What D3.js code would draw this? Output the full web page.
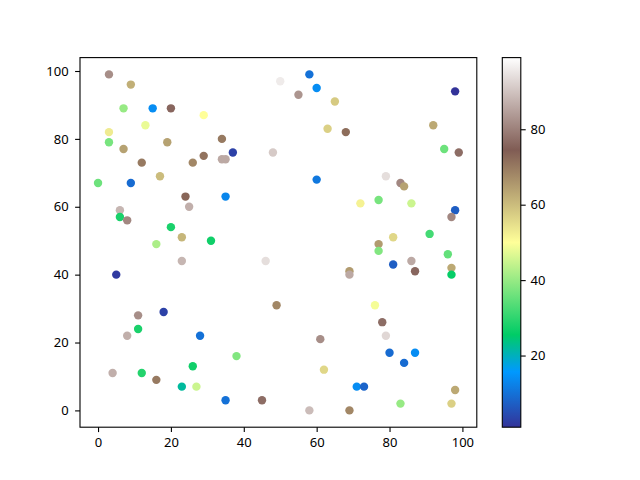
<!DOCTYPE html>
<html>
<head>
<meta charset="utf-8">
<script src="https://cdn.jsdelivr.net/npm/d3@7"></script>
<style>
  body { margin: 0; background: #fff; }
  svg text { font-family: "Noto Sans", "DejaVu Sans", sans-serif; font-size: 13px; fill: #000; }
</style>
</head>
<body>
<svg id="chart" width="640" height="480"></svg>
<script>
// scatter points (x, y, colour value)
const xs = [3, 9, 7, 15, 20, 29, 13, 3, 3, 7, 19, 12, 26, 29, 17, 34, 34, 35, 0, 9,
            50, 58, 60, 55, 65, 63, 37, 48, 60, 68, 98, 92, 95, 99, 79, 83, 84,
            24, 25, 6, 6, 8, 20, 23, 31, 16, 23, 5, 35, 46, 49,
            72, 77, 86, 98, 97, 91, 81, 77, 77, 96, 81, 86, 97, 97, 87, 69, 69, 76,
            18, 11, 11, 8, 28, 26, 4, 12, 16, 23, 27, 38, 61, 62, 35, 45, 58,
            78, 79, 80, 87, 84, 71, 73, 85, 83, 69, 98, 97];
const ys = [99, 96, 89, 89, 89, 87, 84, 82, 79, 77, 79, 73, 73, 75, 69, 80, 74, 74, 67, 67,
            97, 99, 95, 93, 91, 83, 76, 76, 68, 82, 94, 84, 77, 76, 69, 67, 66,
            63, 60, 59, 57, 56, 54, 51, 50, 49, 44, 40, 63, 44, 31,
            61, 62, 61, 59, 57, 52, 51, 49, 47, 46, 43, 44, 42, 40, 41, 41, 40, 31,
            29, 28, 24, 22, 22, 13, 11, 11, 9, 7, 7, 16, 21, 12, 3, 3, 0,
            26, 22, 17, 17, 14, 7, 7, 8, 2, 0, 6, 2];
const cs = [82, 62, 40, 14, 76, 50, 48, 53, 37, 64, 64, 70, 68, 71, 60, 70, 86, 86, 36, 9,
            96, 10, 14, 83, 58, 57, 3, 91, 11, 72, 1, 63, 36, 77, 94, 81, 64,
            73, 87, 88, 28, 81, 28, 61, 27, 42, 88, 2, 13, 94, 68,
            52, 37, 45, 7, 81, 32, 56, 65, 38, 35, 7, 86, 63, 26, 76, 65, 86, 49,
            3, 82, 28, 87, 10, 27, 87, 29, 70, 22, 45, 38, 82, 56, 10, 77, 89,
            77, 93, 9, 14, 9, 14, 8, 99, 40, 68, 63, 57];

const xTicks = [0, 20, 40, 60, 80, 100];
const yTicks = [0, 20, 40, 60, 80, 100];
const cbarTicks = [20, 40, 60, 80];

// matplotlib "terrain" colormap anchors
const terrainStops = [0, 0.15, 0.25, 0.5, 0.75, 1];
const terrainColors = ["#333399", "#0099ff", "#00cc66", "#ffff99", "#805c54", "#ffffff"];

const svg = d3.select("#chart");
const plotL = 80, plotR = 476.8, plotT = 57.6, plotB = 427.2;
const cbLeft = 502.3, cbWidth = 18.5;

function padded(vals) {
  const [lo, hi] = d3.extent(vals);
  const m = (hi - lo) * 0.05;
  return [lo - m, hi + m];
}

const x = d3.scaleLinear().domain(padded(xs)).range([plotL, plotR]);
const y = d3.scaleLinear().domain(padded(ys)).range([plotB, plotT]);
const cExtent = d3.extent(cs);
const terrain = d3.scaleLinear().domain(terrainStops).range(terrainColors).interpolate(d3.interpolateRgb);
const colour = v => terrain((v - cExtent[0]) / (cExtent[1] - cExtent[0]));

const points = xs.map((d, i) => ({x: d, y: ys[i], c: cs[i]}));

svg.append("g")
  .selectAll("circle")
  .data(points)
  .join("circle")
  .attr("cx", d => x(d.x))
  .attr("cy", d => y(d.y))
  .attr("r", 4.2)
  .attr("fill", d => colour(d.c));

// axes
const xAxis = svg.append("g")
  .attr("transform", `translate(0,${plotB})`)
  .call(d3.axisBottom(x).tickValues(xTicks).tickSize(4.9).tickPadding(5.5).tickSizeOuter(0));
const yAxis = svg.append("g")
  .attr("transform", `translate(${plotL},0)`)
  .call(d3.axisLeft(y).tickValues(yTicks).tickSize(4.9).tickPadding(6.5).tickSizeOuter(0));
[xAxis, yAxis].forEach(a => {
  a.select(".domain").remove();
  a.selectAll("line").attr("stroke", "#000").attr("stroke-width", 1.1);
  a.attr("font-family", null).attr("font-size", null);
});

svg.append("rect")
  .attr("x", plotL).attr("y", plotT)
  .attr("width", plotR - plotL).attr("height", plotB - plotT)
  .attr("fill", "none").attr("stroke", "#000").attr("stroke-width", 1.1);

// colorbar
const grad = svg.append("defs").append("linearGradient")
  .attr("id", "terrainGrad")
  .attr("x1", 0).attr("y1", 1).attr("x2", 0).attr("y2", 0);
grad.selectAll("stop")
  .data(terrainStops)
  .join("stop")
  .attr("offset", d => d)
  .attr("stop-color", (d, i) => terrainColors[i]);

const cb = d3.scaleLinear().domain(cExtent).range([plotB, plotT]);
svg.append("rect")
  .attr("x", cbLeft).attr("y", plotT)
  .attr("width", cbWidth).attr("height", plotB - plotT)
  .attr("fill", "url(#terrainGrad)")
  .attr("stroke", "#000").attr("stroke-width", 1.1);

const cAxis = svg.append("g")
  .attr("transform", `translate(${cbLeft + cbWidth},0)`)
  .call(d3.axisRight(cb).tickValues(cbarTicks).tickSize(4.9).tickPadding(4.9).tickSizeOuter(0));
cAxis.select(".domain").remove();
cAxis.selectAll("line").attr("stroke", "#000").attr("stroke-width", 1.1);
cAxis.attr("font-family", null).attr("font-size", null);
</script>
</body>
</html>
